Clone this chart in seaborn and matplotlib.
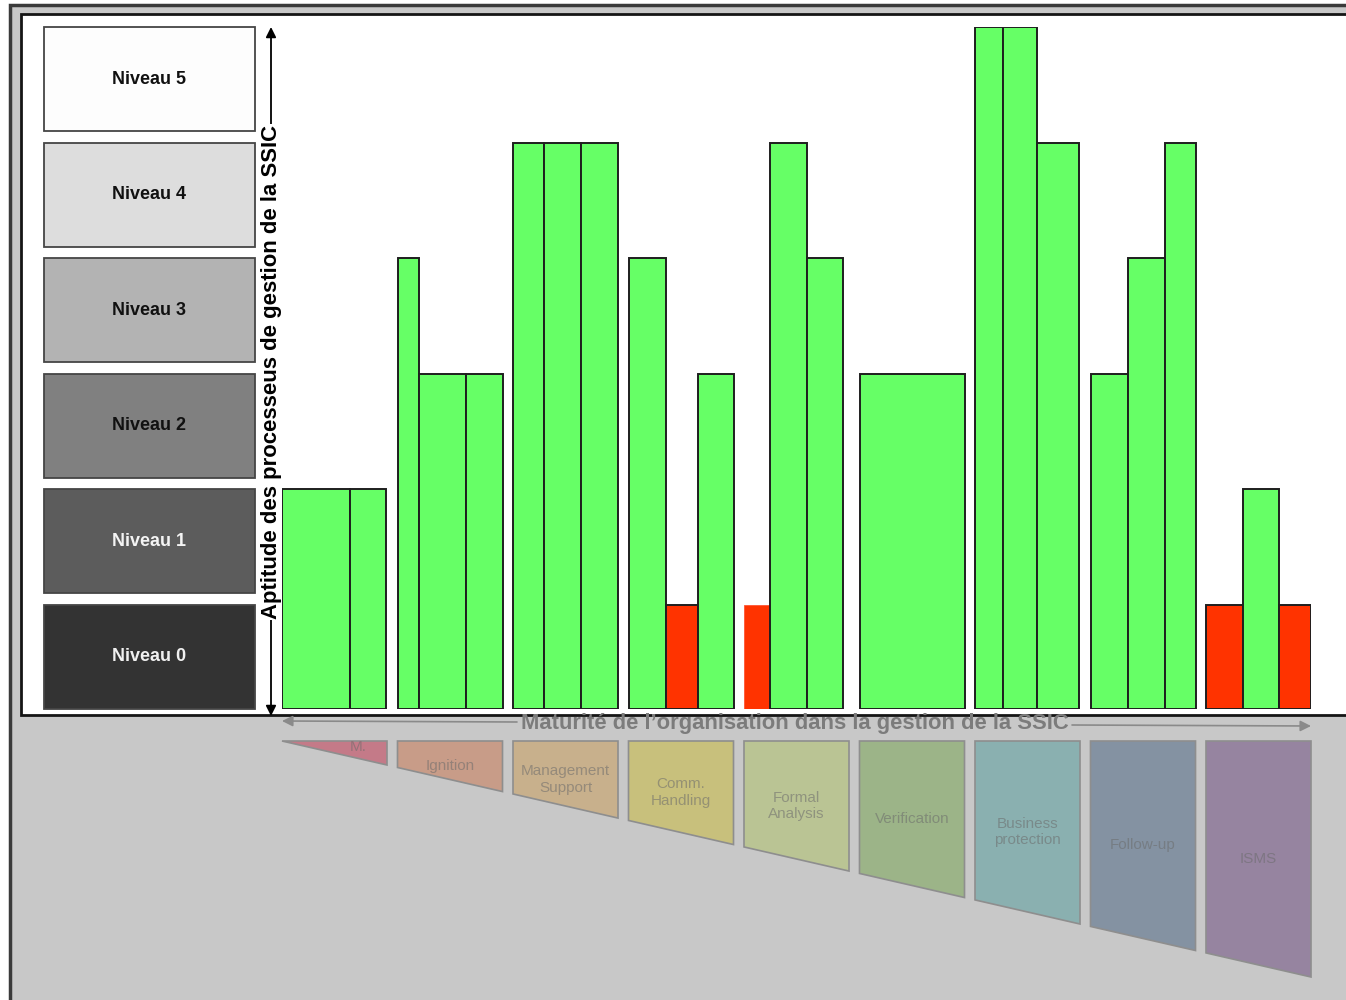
import numpy as np
import pandas as pd
import matplotlib
matplotlib.use("Agg")
import matplotlib.pyplot as plt
from matplotlib.patches import Rectangle, Polygon
from matplotlib.colors import to_rgb
import seaborn as sns

# ---------------------------------------------------------------- data
phases = ["M.", "Ignition", "Management\nSupport", "Comm.\nHandling",
          "Formal\nAnalysis", "Verification", "Business\nprotection",
          "Follow-up", "ISMS"]
niveaux = ["Niveau 0", "Niveau 1", "Niveau 2", "Niveau 3", "Niveau 4", "Niveau 5"]

# capability level reached by each process of each maturity phase
process_levels = [
    [1, 1],
    [3, 2, 2],
    [4, 4, 4],
    [3, 0, 2],
    [0, 4, 3],
    [2],
    [5, 5, 4],
    [2, 3, 4],
    [0, 1, 0],
]

y_title = "Aptitude des processeus de gestion de la SSIC"
x_title = "Maturité de l’organisation dans la gestion de la SSIC"

# ---------------------------------------------------------------- layout / style
W, H = 1346, 1000
X0, X1 = 282, 1311          # bar area in pixels
Y_BASE, Y_TOP = 709, 27
PITCH = 115.5               # pixels per phase slot
SLOT_W = 105                # pixel width of a phase column
BOX_H = 0.9                 # height of a level box (gap of 0.1 above)
bar_px = [[68, 36], [21, 47, 37], [31, 37, 37], [37, 32, 36], [26, 37, 36],
          [105], [28, 34, 42], [37, 37, 31], [37, 36, 32]]
unframed = {(4, 0)}
# vertical placement of each phase name inside its ribbon cell (pixels)
LABEL_Y0, LABEL_STEP = 753, 13.2

GREEN = "#66ff66"
RED = "#ff3300"
EDGE = "#1e1e1e"
box_fill = ["#333333", "#5c5c5c", "#808080", "#b3b3b3", "#dddddd", "#fdfdfd"]
box_text = ["#f0f0f0", "#f4f4f4", "#111111", "#111111", "#111111", "#111111"]
phase_fill = ["#c47a88", "#c89c88", "#c8b08c", "#c8c07c", "#bac494",
              "#9cb488", "#8ab0b0", "#8492a2", "#9684a0"]

sns.set_theme(style="white")
plt.rcParams["font.family"] = ["Liberation Sans", "DejaVu Sans"]

fig = plt.figure(figsize=(W / 100, H / 100), dpi=100)

# background canvas in pixel coordinates
bg = fig.add_axes([0, 0, 1, 1])
bg.set_xlim(0, W)
bg.set_ylim(H, 0)
bg.axis("off")

bg.add_patch(Rectangle((10, 5), W + 20, H + 20, facecolor="#c8c8c8",
                       edgecolor="#3a3a3a", lw=2.5, zorder=0))
bg.add_patch(Rectangle((21, 14), W + 20, 715 - 14, facecolor="white",
                       edgecolor="#151515", lw=2, zorder=1))

# maturity phase ribbon below the chart
TRAP_TOP, TRAP_BOT_L, TRAP_BOT_R = 741, 741, 977


def ribbon_bottom(x):
    return TRAP_BOT_L + (x - X0) * (TRAP_BOT_R - TRAP_BOT_L) / (X1 - X0)


def faded(color, grey=0.42, share=0.45):
    c = np.array(to_rgb(color))
    return tuple(share * c + (1 - share) * grey)


for i, name in enumerate(phases):
    xa = X0 + PITCH * i
    xb = xa + SLOT_W
    pts = [(xa, TRAP_TOP), (xb, TRAP_TOP), (xb, ribbon_bottom(xb)), (xa, ribbon_bottom(xa))]
    if i == 0:
        pts = pts[:3]
    bg.add_patch(Polygon(pts, closed=True, facecolor=phase_fill[i],
                         edgecolor="#8e8e8e", lw=1.2, zorder=2))
    cx = (xa + xb) / 2 if i > 0 else xa + 0.73 * SLOT_W
    cy = LABEL_Y0 + LABEL_STEP * i if i > 0 else TRAP_TOP + 6
    bg.text(cx, cy, name, ha="center", va="center", fontsize=11,
            color=faded(phase_fill[i]), linespacing=1.22, zorder=3)

# horizontal axis arrow and title
arrow_grey = "#8a8a8a"
bg.annotate("", xy=(X0, 721), xytext=(517, 722),
            arrowprops=dict(arrowstyle="-|>", color=arrow_grey, lw=1.2,
                            mutation_scale=16, shrinkA=0, shrinkB=0), zorder=4)
bg.annotate("", xy=(X1, 726), xytext=(1072, 725),
            arrowprops=dict(arrowstyle="-|>", color=arrow_grey, lw=1.2,
                            mutation_scale=16, shrinkA=0, shrinkB=0), zorder=4)
bg.text(795, 729.5, x_title, ha="center", va="baseline", fontsize=15.8,
        fontweight="bold", color="#7c7c7c", zorder=5)

# vertical axis arrow and title
bg.annotate("", xy=(271, Y_TOP), xytext=(271, 716),
            arrowprops=dict(arrowstyle="<|-|>", color="black", lw=1.3,
                            mutation_scale=15, shrinkA=0, shrinkB=0), zorder=4)
bg.text(272, 372, y_title, rotation=90, ha="center", va="center",
        fontsize=15.9, fontweight="bold", color="black", zorder=5,
        bbox=dict(boxstyle="square,pad=0.05", facecolor="white", edgecolor="none"))

# ---------------------------------------------------------------- bars
ax = fig.add_axes([X0 / W, 1 - Y_BASE / H, (X1 - X0) / W, (Y_BASE - Y_TOP) / H])
ax.patch.set_alpha(0)

for i, (levels, widths) in enumerate(zip(process_levels, bar_px)):
    w = np.asarray(widths, dtype=float) / PITCH
    edges = i + np.concatenate([[0.0], np.cumsum(w)])
    group = pd.DataFrame({
        "centre": (edges[:-1] + edges[1:]) / 2,
        "hauteur": np.asarray(levels, dtype=float) + BOX_H,
    })
    n0 = len(ax.patches)
    sns.histplot(data=group, x="centre", weights="hauteur", bins=edges.tolist(),
                 stat="count", color=GREEN, alpha=1, edgecolor=EDGE,
                 linewidth=1.4, ax=ax)
    for j, (p, lv) in enumerate(zip(ax.patches[n0:], levels)):
        if lv == 0:
            p.set_facecolor(RED)
            if (i, j) in unframed:
                p.set_edgecolor("#ff5533")
                p.set_linewidth(0.6)

x_max = (X1 - X0) / PITCH
y_max = len(niveaux) - 1 + BOX_H
ax.set_xlim(0, x_max)
ax.set_ylim(0, y_max)
ax.axis("off")

# level scale boxes on the left, sharing the bars' vertical scale
bx0 = (44 - X0) / PITCH
bx1 = (255 - X0) / PITCH
for k, name in enumerate(niveaux):
    ax.add_patch(Rectangle((bx0, k), bx1 - bx0, BOX_H, facecolor=box_fill[k],
                           edgecolor="#454545", lw=1.3, clip_on=False, zorder=3))
    ax.text((bx0 + bx1) / 2, k + BOX_H / 2, name, ha="center", va="center",
            fontsize=13, fontweight="bold", color=box_text[k],
            clip_on=False, zorder=4)

fig.savefig("out.png", dpi=100)
